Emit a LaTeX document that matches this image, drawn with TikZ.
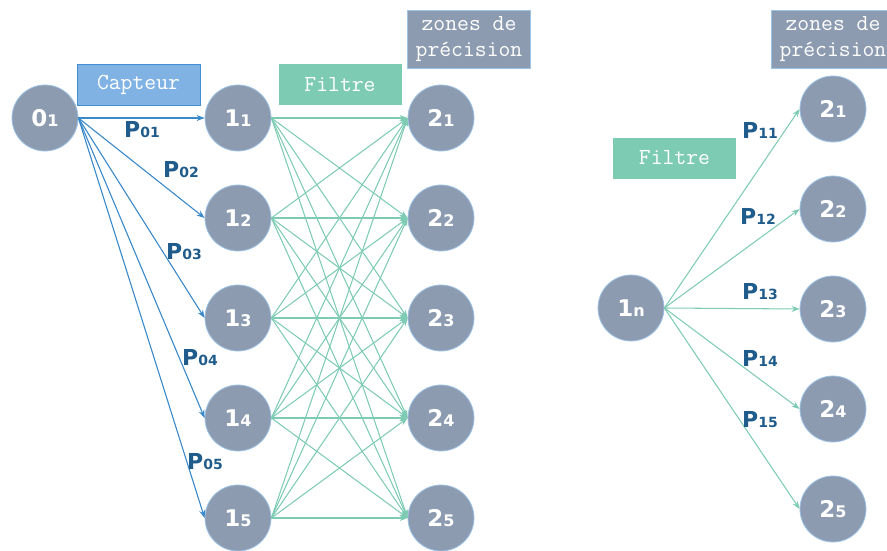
\documentclass[tikz,border=0pt]{standalone}
\usepackage{fontspec}
\setsansfont{DejaVu Sans}
\usetikzlibrary{arrows.meta}

\definecolor{nodegray}{HTML}{8D9BB1}
\definecolor{nodeedge}{HTML}{9DC3E6}
\definecolor{capteurblue}{HTML}{80B3E4}
\definecolor{capteuredge}{HTML}{3F8FD2}
\definecolor{filtregreen}{HTML}{7ECBB3}
\definecolor{probblue}{HTML}{1F5C8C}
\definecolor{arrowblue}{HTML}{3A89C9}

\newcommand{\etat}[2]{{\fontsize{23}{23}\selectfont\bfseries #1}{\fontsize{16}{16}\selectfont\bfseries #2}}
\newcommand{\proba}[1]{{\fontsize{22}{22}\selectfont\bfseries P}{\fontsize{14}{14}\selectfont\bfseries #1}}

\begin{document}
\begin{tikzpicture}[x=1pt,y=-1pt,
	etatnode/.style={circle,fill=nodegray,draw=nodeedge,line width=0.8pt,minimum size=66pt,inner sep=0pt,text=white,font=\sffamily},
	boite/.style={minimum width=123pt,minimum height=41pt,inner sep=0pt,text=white,font=\ttfamily\fontsize{23}{26}\selectfont,align=center},
	proba/.style={inner sep=0pt,text=probblue,font=\sffamily},
	capteurarrow/.style={draw=arrowblue,line width=1.1pt,-{Stealth[length=8pt,width=6pt]}},
	filtrearrow/.style={draw=filtregreen,line width=1.05pt,-{Stealth[length=8pt,width=6pt]}}
	]
	\useasboundingbox (0,0) rectangle (887,551);
	% left part
	\node[etatnode] (o1) at (45,118) {\etat{0}{1}};
	\foreach \i in {1,...,5}
	{
		\node[etatnode] (l\i) at (238, 18+100*\i) {\etat{1}{\i}};
		\node[etatnode] (z\i) at (441, 18+100*\i) {\etat{2}{\i}};
	}
	\foreach \i in {1,...,5}
	{
		\draw[capteurarrow] (o1.east) -- (l\i.west);
		\foreach \j in {1,...,5}
		{
			\draw[filtrearrow] (l\i.east) -- (z\j.west);
		}
	}
	\foreach \i/\x/\y in {1/142/130, 2/181/170, 3/184/252, 4/200/358, 5/205/462}
	{
		\node[proba] (p0\i) at (\x,\y) {\proba{0\i}};
	}
	\node[boite,fill=capteurblue,draw=capteuredge,line width=0.8pt] (capteur) at (138.5,84.5) {Capteur};
	\node[boite,fill=filtregreen] (filtre) at (340,85) {Filtre};
	\node[boite,fill=nodegray,draw=nodeedge,line width=0.8pt,minimum height=58pt] (zones) at (469,39) {zones de\\précision};
	% right part
	\node[etatnode] (ln) at (631,308) {\etat{1}{n}};
	\foreach \j in {1,...,5}
	{
		\node[etatnode] (rz\j) at (833, 9+100*\j) {\etat{2}{\j}};
		\draw[filtrearrow] (ln.east) -- (rz\j.west);
	}
	\foreach \j/\x/\y in {1/760/130, 2/758/216, 3/760/292, 4/760/358, 5/760/420}
	{
		\node[proba] (p1\j) at (\x,\y) {\proba{1\j}};
	}
	\node[boite,fill=filtregreen] (rfiltre) at (674.5,158) {Filtre};
	\node[boite,fill=nodegray,draw=nodeedge,line width=0.8pt,minimum height=58pt] (rzones) at (833,39) {zones de\\précision};
\end{tikzpicture}
\end{document}
